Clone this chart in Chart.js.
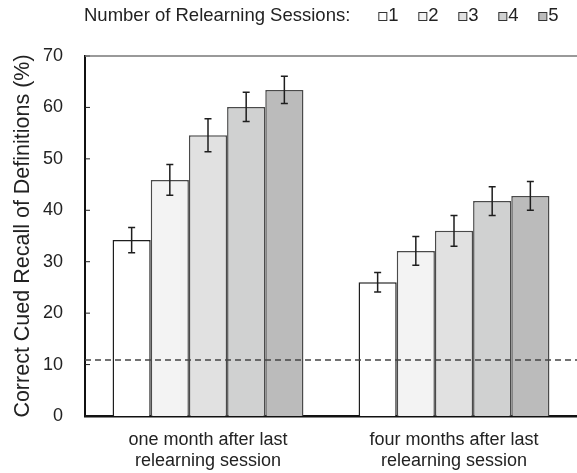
<!DOCTYPE html>
<html>
<head>
<meta charset="utf-8">
<script src="https://cdn.jsdelivr.net/npm/chart.js@4/dist/chart.umd.min.js"></script>
<style>
  html, body { margin: 0; padding: 0; background: #fff; }
</style>
</head>
<body>
<canvas id="recall_chart" width="577" height="473"></canvas>
<script>
// Correct cued recall by number of relearning sessions
const groups = [
  ['one month after last', 'relearning session'],
  ['four months after last', 'relearning session']
];
const sessions = ['1', '2', '3', '4', '5'];
const oneMonth = [34.2, 45.9, 54.6, 60.1, 63.4];
const oneMonthErr = [2.45, 3.0, 3.2, 2.85, 2.65];
const fourMonths = [26.0, 32.1, 36.0, 41.8, 42.8];
const fourMonthsErr = [1.9, 2.8, 3.0, 2.8, 2.8];
const chanceLevel = 10.9;
const yTicks = [0, 10, 20, 30, 40, 50, 60, 70];

const fills = ['#ffffff', '#f3f3f3', '#e1e1e1', '#d0d1d1', '#bbbbbb'];
const edges = ['#1e1e1e', '#4a4a4a', '#4a4a4a', '#4a4a4a', '#4a4a4a'];
const FONT = '"Liberation Sans", Arial, Helvetica, sans-serif';

// error bars, the dashed chance line, inward ticks, top rule and legend
const extras = {
  id: 'extras',
  afterDatasetsDraw(chart) {
    const { ctx, chartArea, scales } = chart;
    const y = scales.y;
    const errs = [oneMonthErr, fourMonthsErr];
    const vals = [oneMonth, fourMonths];

    ctx.save();
    // dashed line
    ctx.strokeStyle = '#444';
    ctx.lineWidth = 1.5;
    ctx.setLineDash([6, 4]);
    const yc = y.getPixelForValue(chanceLevel);
    ctx.beginPath();
    ctx.moveTo(chartArea.left, yc);
    ctx.lineTo(chartArea.right, yc);
    ctx.stroke();
    ctx.setLineDash([]);

    // error bars
    ctx.strokeStyle = '#1e1e1e';
    ctx.lineWidth = 1.5;
    sessions.forEach((s, i) => {
      const meta = chart.getDatasetMeta(i);
      meta.data.forEach((bar, g) => {
        const v = vals[g][i], e = errs[g][i];
        const hi = y.getPixelForValue(v + e);
        const lo = y.getPixelForValue(v - e);
        ctx.beginPath();
        ctx.moveTo(bar.x, hi); ctx.lineTo(bar.x, lo);
        ctx.moveTo(bar.x - 3.5, hi); ctx.lineTo(bar.x + 3.5, hi);
        ctx.moveTo(bar.x - 3.5, lo); ctx.lineTo(bar.x + 3.5, lo);
        ctx.stroke();
      });
    });

    // inward tick marks on the y axis
    ctx.lineWidth = 1;
    yTicks.forEach(t => {
      const py = y.getPixelForValue(t);
      ctx.beginPath();
      ctx.moveTo(chartArea.left, py);
      ctx.lineTo(chartArea.left + 5, py);
      ctx.stroke();
    });

    // top rule
    ctx.strokeStyle = '#777';
    ctx.lineWidth = 1.5;
    ctx.beginPath();
    ctx.moveTo(chartArea.left, chartArea.top);
    ctx.lineTo(chartArea.right, chartArea.top);
    ctx.stroke();

    // legend
    ctx.font = '18.5px ' + FONT;
    ctx.fillStyle = '#222';
    ctx.textBaseline = 'alphabetic';
    const title = 'Number of Relearning Sessions:';
    ctx.fillText(title, 84, 20.5);
    let x = 84 + ctx.measureText(title).width + 28;
    sessions.forEach((s, i) => {
      ctx.fillStyle = fills[i];
      ctx.fillRect(x, 12.5, 8, 8);
      ctx.strokeStyle = '#333';
      ctx.lineWidth = 1;
      ctx.strokeRect(x + 0.5, 12.5, 8, 8);
      ctx.fillStyle = '#222';
      ctx.fillText(s, x + 10, 20.5);
      x += 40;
    });
    ctx.restore();
  }
};

const ctx = document.getElementById('recall_chart').getContext('2d');
const recallChart = new Chart(ctx, {
  type: 'bar',
  data: {
    labels: groups,
    datasets: sessions.map((s, i) => ({
      label: s,
      data: [oneMonth[i], fourMonths[i]],
      backgroundColor: fills[i],
      borderColor: edges[i],
      borderWidth: 1.5,
      barPercentage: 1.0,
      categoryPercentage: 0.776
    }))
  },
  options: {
    responsive: false,
    animation: false,
    layout: { padding: { top: 56, right: 0, bottom: 0, left: 0 } },
    plugins: {
      legend: { display: false },
      tooltip: { enabled: false }
    },
    scales: {
      x: {
        afterFit: scale => { scale.height = 57; },
        grid: { display: false, drawTicks: false },
        border: { display: true, color: '#111', width: 2.5 },
        ticks: {
          color: '#222',
          padding: 13,
          font: { family: FONT, size: 18 }
        }
      },
      y: {
        min: 0,
        max: 70,
        afterFit: scale => { scale.width = 85; },
        afterBuildTicks: scale => { scale.ticks = yTicks.map(v => ({ value: v })); },
        grid: { display: false, drawTicks: false },
        border: { display: true, color: '#111', width: 2 },
        ticks: {
          color: '#222',
          padding: 22,
          font: { family: FONT, size: 18 }
        },
        title: {
          display: true,
          text: 'Correct Cued Recall of Definitions (%)',
          color: '#222',
          padding: { top: 10, bottom: 0 },
          font: { family: FONT, size: 21.5 }
        }
      }
    }
  },
  plugins: [extras]
});
</script>
</body>
</html>
